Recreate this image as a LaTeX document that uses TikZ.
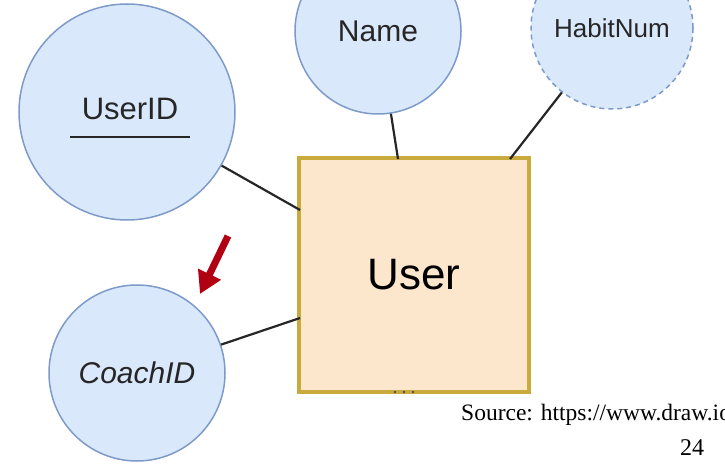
\documentclass[tikz,border=0pt]{standalone}
\usepackage{fontspec}
\setmainfont{Liberation Sans}
\newfontfamily\serifsrc{Liberation Serif}
\usetikzlibrary{arrows.meta}
\definecolor{attrfill}{HTML}{DAE8FC}
\definecolor{attrline}{HTML}{7D9AC8}
\definecolor{entfill}{HTML}{FCE6CC}
\definecolor{entline}{HTML}{C9AA3C}
\definecolor{arrred}{HTML}{B00012}
\tikzset{
  attr/.style={circle, fill=attrfill, draw=attrline, line width=1.5pt, inner sep=0pt, text=black!85, font=\fontsize{30}{34}\selectfont},
  entity/.style={rectangle, fill=entfill, draw=entline, line width=4pt, inner sep=0pt, font=\fontsize{44}{48}\selectfont},
  link/.style={line width=2.2pt, draw=black!85},
}
\begin{document}
\begin{tikzpicture}[x=1pt,y=-1pt]
\useasboundingbox (0,0) rectangle (725,470);
\node[attr, minimum size=216pt] (userid) at (127,112) {};
\node (useridtxt) at (130,109) {\fontsize{31}{34}\selectfont\color{black!85}UserID};
\coordinate (ul1) at (70,137);
\coordinate (ul2) at (190,137);
\draw[line width=2pt, black!85] (ul1) -- (ul2);
\node[attr, minimum size=166pt] (name) at (378,31) {Name};
\node[attr, dashed, dash pattern=on 5pt off 4pt, minimum size=162pt, font=\fontsize{26}{30}\selectfont] (habit) at (612,28) {HabitNum};
\node[attr, minimum size=176pt, font=\fontsize{30}{34}\selectfont\itshape] (coach) at (137,373) {CoachID};
\node[entity, minimum width=230pt, minimum height=233pt] (user) at (414,275) {User};
\coordinate (u1) at (300,210);
\coordinate (u2) at (398,159);
\coordinate (u3) at (510,159);
\coordinate (u4) at (300,318);
\draw[link] (userid) -- (u1);
\draw[link] (name) -- (u2);
\draw[link] (habit) -- (u3);
\draw[link] (coach) -- (u4);
\foreach \dx in {-9,0,9} \fill[black!70] (404+\dx,392) circle (1.3pt);
\coordinate (a1) at (228,236);
\coordinate (a2) at (200,294);
\draw[arrred, line width=7pt, -{Triangle[length=22pt,width=24pt]}] (a1) -- (a2);
\node[anchor=base west, inner sep=0pt, font=\serifsrc\fontsize{23.5}{28}\selectfont] (src) at (461,420) {Source: https://www.draw.io};
\node[anchor=base west, inner sep=0pt, font=\serifsrc\fontsize{24}{28}\selectfont] (pg) at (680,455) {24};
\end{tikzpicture}
\end{document}
